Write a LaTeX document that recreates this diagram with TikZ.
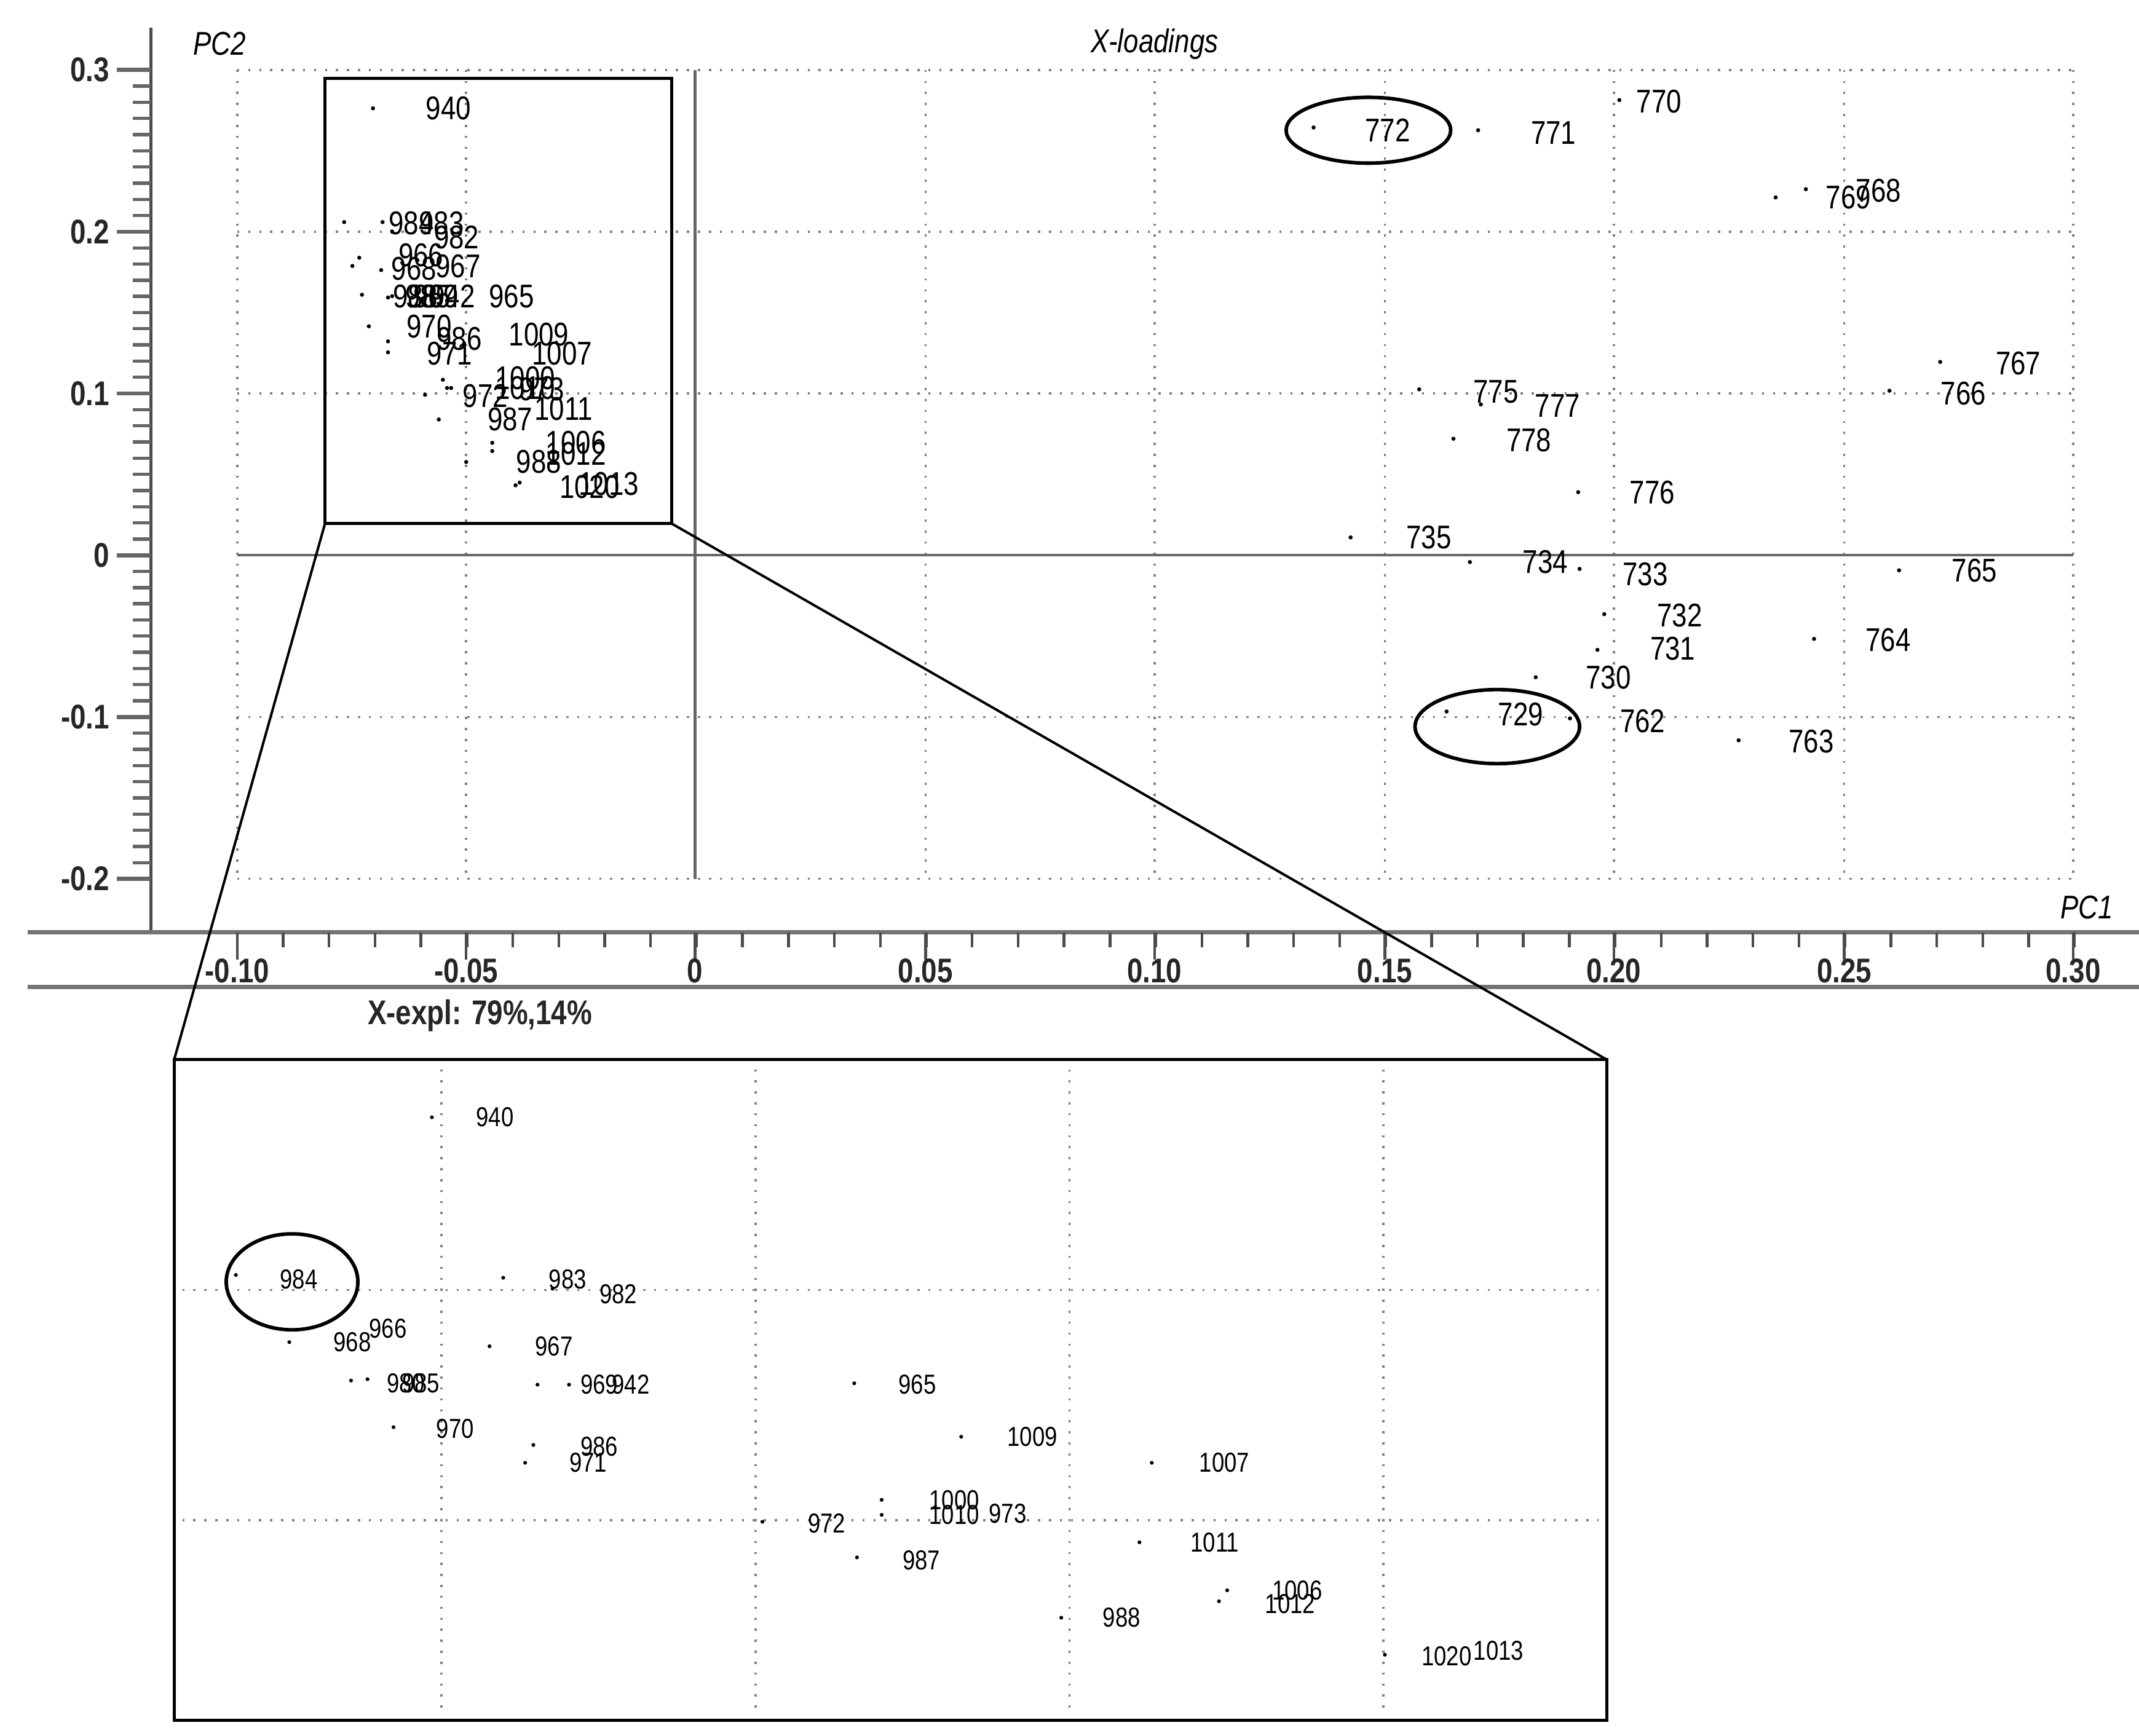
\documentclass[tikz,border=0pt]{standalone}
\usepackage{fontspec}
\setmainfont{Liberation Sans}[FakeStretch=0.82]
\begin{document}
\begin{tikzpicture}[x=1pt,y=-1pt,
  ax/.style={line width=3pt,draw=black!55},
  grid/.style={draw=black!50,line width=1.6pt,dash pattern=on 1.6pt off 6.4pt},
  lbl/.style={font=\fontsize{24}{24}\selectfont,inner sep=0pt},
  ilbl/.style={font=\fontsize{20}{20}\selectfont,inner sep=0pt},
  tl/.style={font=\fontsize{25}{25}\selectfont\bfseries,inner sep=0pt,text=black!85},
  it/.style={font=\fontsize{24}{24}\selectfont\itshape,inner sep=0pt},
  box/.style={line width=2.2pt,draw=black},
  ell/.style={line width=2.6pt,draw=black}]
\useasboundingbox (0,0) rectangle (1560,1266);
\fill[white] (0,0) rectangle (1560,1266);
% grid
\foreach \y in {51,169,287,523,641} \draw[grid] (173,\y) -- (1512,\y);
\foreach \x in {173,340,675,842,1010,1177,1345,1512} \draw[grid] (\x,51) -- (\x,641);
\draw[line width=2pt,draw=black!60] (173,405) -- (1512,405);
\draw[line width=2pt,draw=black!60] (507,51) -- (507,641);
% axes
\draw[line width=2pt,draw=black!70] (110,20) -- (110,680);
\draw[ax] (20,680) -- (1560,680);
\draw[ax] (20,720) -- (1560,720);
\foreach \i in {0,...,50} \draw[line width=2.4pt,draw=black!60] (97,{51+\i*11.8}) -- (110,{51+\i*11.8});
\foreach \y/\t in {51/0.3,169/0.2,287/0.1,405/0,523/-0.1,641/-0.2} {
  \draw[line width=3pt,draw=black!60] (85,\y) -- (110,\y);
  \node[tl,anchor=east] at (80,\y) {\t};}
\foreach \i in {0,...,40} \draw[line width=2pt,draw=black!70] ({173+\i*33.5},680) -- ({173+\i*33.5},691);
\foreach \x/\t in {173/-0.10,340/-0.05,507/0,675/0.05,842/0.10,1010/0.15,1177/0.20,1345/0.25,1512/0.30} {
  \draw[line width=2pt,draw=black!70] (\x,680) -- (\x,700);
  \node[tl] at (\x,708) {\t};}
\node[it] (pc2) at (160,32) {PC2};
\node[it] (tt) at (842,32) {X-loadings};
\node[it] (pc1) at (1522,662) {PC1};
\node[tl] (xe) at (350,741) {X-expl: 79\%,14\%};
% zoom box and inset
\draw[box] (237,57) rectangle (490,382);
\draw[box] (127,773) rectangle (1172,1255);
\coordinate (b1) at (237,382); \coordinate (b2) at (490,382);
\coordinate (i1) at (127,773); \coordinate (i2) at (1172,773);
\draw[line width=1.8pt] (b1) -- (i1);
\draw[line width=1.8pt] (b2) -- (i2);
% main cluster dots
\foreach \x/\y in {272/79,251/162,279/162,286/169,262/188,257/194,278/197,264/215,283/217,286/216,269/238,283/249,283/257,323/277,326/283,329/283,310/288,320/306,359/323,359/329,340/337,376/354,379/352}
  \fill (\x,\y) circle (1.5);
\foreach \x/\y/\t in {327/79/940,300/163/984,322/163/983,333/173/982,307/186/966,302/196/968,334/194/967,303/216/988,312/216/985,318/216/969,330/216/942,373/216/965,313/238/970,335/247/986,393/244/1009,328/258/971,410/258/1007,383/276/1000,383/283/1010,354/289/972,395/284/973,411/298/1011,372/306/987,420/323/1006,420/331/1012,393/337/988,444/353/1013,430/355/1020}
  \node[lbl] at (\x,\y) {\t};
% main right dots
\foreach \x/\y/\t/\lx/\ly in {958/93/772/1012/95, 1078/95/771/1133/97, 1181/73/770/1210/74, 1317/138/768/1370/139, 1295/144/769/1348/144, 1415/264/767/1472/265, 1378/285/766/1432/287, 1035/284/775/1091/286, 1080/295/777/1136/296, 1060/320/778/1115/321, 1151/359/776/1205/359, 985/392/735/1042/392, 1072/410/734/1127/410, 1152/415/733/1200/419, 1385/416/765/1440/416, 1170/448/732/1225/449, 1165/474/731/1220/473, 1323/466/764/1377/467, 1120/494/730/1173/494, 1055/519/729/1109/521, 1145/524/762/1198/526, 1268/540/763/1321/541} {
  \fill (\x,\y) circle (1.5);
  \node[lbl] at (\lx,\ly) {\t};}
\draw[ell] (998,95) ellipse (60 and 24);
\draw[ell] (1092,530) ellipse (60 and 27);
% inset grid
\foreach \x in {322,551,780,1009} \draw[grid] (\x,780) -- (\x,1250);
\foreach \y in {941,1109} \draw[grid] (133,\y) -- (1166,\y);
\foreach \x/\y/\t/\lx/\ly in {315/815/940/361/815, 172/930/984/218/933, 367/932/983/414/933, 403/940/982/451/944, 211/979/968/257/979, 357/982/967/404/982, 256/1007/980/296/1009, 268/1006/985/307/1009, 392/1010/969/437/1010, 415/1010/942/460/1010, 623/1009/965/669/1010, 287/1041/970/332/1042, 389/1054/986/437/1055, 383/1067/971/429/1067, 701/1048/1009/753/1048, 840/1067/1007/893/1067, 643/1094/1000/696/1094, 643/1105/1010/696/1105, 556/1110/972/603/1111, 831/1125/1011/886/1125, 625/1136/987/672/1138, 895/1160/1006/946/1160, 889/1168/1012/941/1170, 774/1180/988/818/1180, 1010/1207/1020/1055/1208} {
  \fill (\x,\y) circle (1.4);
  \node[ilbl] at (\lx,\ly) {\t};}
\node[ilbl] at (283,969) {966};
\node[ilbl] at (735,1104) {973};
\node[ilbl] at (1093,1204) {1013};
\draw[ell] (213,935) ellipse (48 and 35);
\end{tikzpicture}
\end{document}
